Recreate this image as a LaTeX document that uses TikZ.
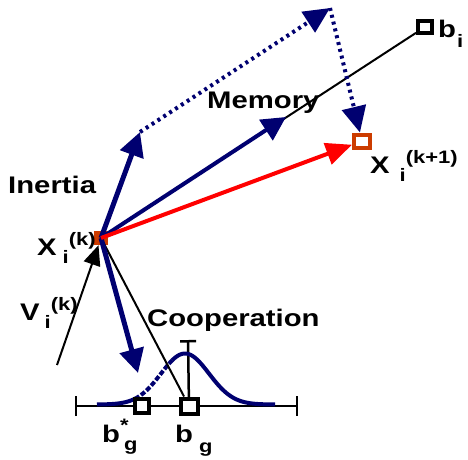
\documentclass[tikz,border=0pt]{standalone}
\usepackage{fontspec}
\usepackage{xcolor}
\usepackage{tikz}
\usetikzlibrary{arrows.meta}
\newfontfamily\lblfont{Liberation Sans}[FakeStretch=1.22]
\definecolor{psonavy}{RGB}{0,0,112}
\definecolor{psored}{RGB}{255,0,0}
\definecolor{psoorange}{RGB}{204,60,0}
\newcommand{\sbsp}[2]{\raisebox{-8pt}{\fontsize{18}{18}\selectfont #1}\raisebox{10pt}{\fontsize{18}{18}\selectfont #2}}
\pgfdeclarelayer{back}
\pgfsetlayers{back,main}
\tikzset{
    lbl/.style={font=\lblfont\bfseries\fontsize{24}{24}\selectfont, inner sep=0pt, anchor=base west},
    sqbox/.style={draw, line width=4pt, fill=white, inner sep=0pt},
    bluevec/.style={psonavy, line width=5pt, -{Triangle[length=24pt,width=24pt]}},
    dotvec/.style={psonavy, line width=4pt, dash pattern=on 3pt off 4pt, -{Triangle[length=26pt,width=24pt]}},
    redvec/.style={psored, line width=4pt, -{Triangle[length=26pt,width=22pt]}},
    blackvec/.style={black, line width=2pt, -{Triangle[length=20pt,width=17pt]}}
}

\begin{document}
\begin{tikzpicture}[x=1pt,y=-1pt]
    \useasboundingbox (0,0) rectangle (468,459);
    % positions
    \node[fill=psoorange, minimum size=14pt, inner sep=0pt] (xk) at (101,238) {};
    \node[sqbox, draw=psoorange, minimum width=16pt, minimum height=13pt] (xk1) at (362,141) {};
    \node[sqbox, minimum width=14pt, minimum height=12pt] (bi) at (425,27) {};
    \node[sqbox, minimum width=14pt, minimum height=14pt] (bgs) at (142,406) {};
    \node[sqbox, minimum width=17pt, minimum height=15pt] (bg) at (189,406) {};
    \coordinate (ine) at (140,132);
    \coordinate (mem) at (286,117);
    \coordinate (top) at (330,8);
    \coordinate (coop) at (138,373);
    \coordinate (vst) at (57,365);
    \coordinate (axl) at (75,406);
    \coordinate (axr) at (298,406);
    \coordinate (bgtop) at (188,340);

    % axis and distribution
    \begin{pgfonlayer}{back}
        \draw[line width=2pt, {Bar[width=20pt]}-{Bar[width=20pt]}] (axl) -- (axr);
        \draw[line width=2.5pt, -{Bar[width=16pt]}] (bg.center) -- (bgtop);
        \draw[psonavy, line width=4pt] plot[domain=97:135, samples=20] (\x, {404.5-51*exp(-((\x-185)^2)/1152)});
        \draw[psonavy, line width=4pt, dash pattern=on 5pt off 2pt] plot[domain=135:172, samples=20] (\x, {404.5-51*exp(-((\x-185)^2)/1152)});
        \draw[psonavy, line width=4pt] plot[domain=172:275, samples=60] (\x, {404.5-51*exp(-((\x-185)^2)/1152)});
    \end{pgfonlayer}

    % lines to the best positions
    \draw[line width=2pt] (xk.center) -- (bi);
    \draw[line width=2pt] (xk.center) -- (bg);
    \draw[blackvec] (vst) -- (xk);

    % velocity parts
    \draw[dotvec] (ine) -- (top);
    \draw[dotvec] (top) -- (xk1);
    \draw[bluevec] (xk.center) -- (ine);
    \draw[bluevec, line width=4pt] (xk.center) -- (mem);
    \draw[bluevec] (xk.center) -- (coop);
    \draw[redvec] (xk.center) -- (xk1);

    % labels
    \node[lbl] (inertia) at (8,193) {Inertia};
    \node[lbl] (memory) at (207,108) {Memory};
    \node[lbl] (cooper) at (147,326) {Cooperation};
    \node[lbl] (xklbl) at (37,255) {X\hspace{6pt}\sbsp{i}{(k)}};
    \node[lbl] (xk1lbl) at (370,173) {X\hspace{10pt}\sbsp{i}{(k+1)}};
    \node[lbl] (vlbl) at (20,320) {V\hspace{5pt}\sbsp{i}{(k)}};
    \node[lbl] (bilbl) at (438,37) {b\hspace{1pt}\raisebox{-10pt}{\fontsize{18}{18}\selectfont i}};
    \node[lbl] (bgslbl) at (102,442) {b\rlap{\raisebox{11pt}{\fontsize{18}{18}\selectfont *}}\hspace{4pt}\raisebox{-8pt}{\fontsize{18}{18}\selectfont g}};
    \node[lbl] (bglbl) at (175,442) {b\hspace{6pt}\raisebox{-10pt}{\fontsize{18}{18}\selectfont g}};
\end{tikzpicture}
\end{document}
